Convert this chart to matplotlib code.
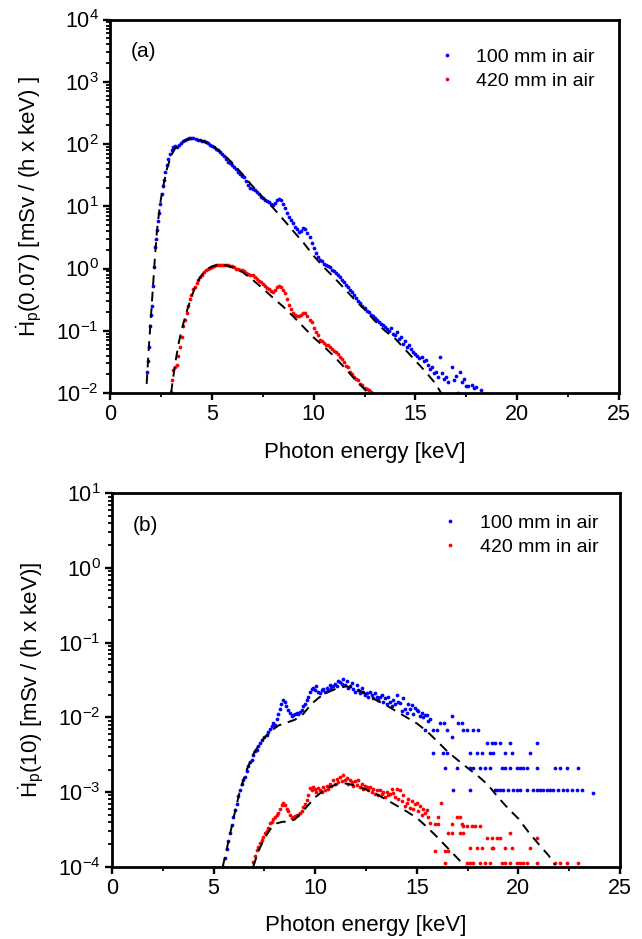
import numpy as np
import matplotlib
matplotlib.use("Agg")
import matplotlib.pyplot as plt
from matplotlib.ticker import LogLocator, MultipleLocator, NullFormatter

plt.rcParams['font.family'] = ['Liberation Sans', 'DejaVu Sans']
plt.rcParams['mathtext.fontset'] = 'custom'
plt.rcParams['mathtext.rm'] = 'Liberation Sans'
plt.rcParams['mathtext.it'] = 'Liberation Sans:italic'

# ---------------- Panel (a): Hp(0.07) ----------------
a_blue_x = [1.82, 1.87, 1.92, 1.96, 2.01, 2.06, 2.11, 2.16, 2.21, 2.25, 2.29, 2.35, 2.42, 2.48, 2.54, 2.6,
            2.65, 2.72, 2.78, 2.86, 2.95, 3.03, 3.11, 3.2, 3.3, 3.4, 3.5, 3.6, 3.7, 3.8, 3.9, 4.0, 4.1,
            4.2, 4.3, 4.4, 4.5, 4.6, 4.7, 4.8, 4.9, 5.0, 5.1, 5.2, 5.3, 5.4, 5.5, 5.6, 5.7, 5.8, 5.9,
            6.0, 6.1, 6.2, 6.3, 6.4, 6.5, 6.6, 6.7, 6.8, 6.9, 7.0, 7.1, 7.2, 7.3, 7.4, 7.5, 7.6, 7.7,
            7.8, 7.9, 8.0, 8.1, 8.2, 8.3, 8.4, 8.5, 8.6, 8.7, 8.8, 8.9, 9.0, 9.1, 9.2, 9.3, 9.4, 9.5,
            9.6, 9.7, 9.8, 9.9, 10.0, 10.1, 10.2, 10.3, 10.4, 10.5, 10.6, 10.7, 10.8, 10.9, 11.0, 11.1,
            11.2, 11.3, 11.4, 11.5, 11.6, 11.7, 11.8, 11.9, 12.0, 12.1, 12.2, 12.3, 12.4, 12.5, 12.6,
            12.7, 12.8, 12.9, 13.0, 13.1, 13.2, 13.3, 13.4, 13.5, 13.6, 13.7, 13.8, 13.9, 14.0, 14.1,
            14.2, 14.3, 14.4, 14.5, 14.6, 14.7, 14.8, 14.9, 15.0, 15.1, 15.2, 15.3, 15.4, 15.5, 15.6,
            15.7, 15.8, 15.9, 16.0, 16.1, 16.2, 16.3, 16.4, 16.5, 16.6, 16.8, 16.9, 17.0, 17.1, 17.2,
            17.3, 17.4, 17.5, 17.6, 17.8, 17.9, 18.0, 18.2]
a_blue_y = [0.022, 0.033, 0.055, 0.12, 0.18, 0.25, 0.52, 1.07, 2.2, 3.0, 4.2, 5.8, 7.7, 11, 16, 21,
            26, 35, 46, 57, 69, 80, 91, 92, 88, 95, 103, 110, 116, 120, 123, 124, 123,
            121, 118, 115, 113, 110, 107, 103, 98, 93, 88, 84, 79, 74, 69, 63, 57, 52, 49,
            46, 43, 40, 36, 33, 31, 29, 25, 22, 20, 19, 18, 17, 15.5, 14, 13.5, 12.8, 12.2,
            11.5, 10.8, 10.5, 11.2, 12.5, 13, 12.5, 11, 9.3, 7.8, 6.8, 6.0, 5.4, 4.7, 4.3, 3.9, 4.0, 4.5,
            4.3, 3.7, 3.2, 2.6, 2.1, 1.8, 1.55, 1.37, 1.3, 1.2, 1.15, 1.1, 1.05, 0.95, 0.9, 0.85,
            0.78, 0.74, 0.66, 0.6, 0.55, 0.5, 0.45, 0.42, 0.38, 0.34, 0.3, 0.28, 0.25, 0.23, 0.21,
            0.2, 0.18, 0.17, 0.16, 0.15, 0.14, 0.13, 0.125, 0.115, 0.105, 0.1, 0.11, 0.09, 0.085, 0.095,
            0.075, 0.08, 0.062, 0.068, 0.055, 0.06, 0.05, 0.045, 0.043, 0.04, 0.036, 0.038, 0.033, 0.034, 0.028,
            0.024, 0.026, 0.021, 0.022, 0.018, 0.038, 0.021, 0.017, 0.018, 0.015, 0.026, 0.016, 0.019, 0.01, 0.022,
            0.015, 0.017, 0.013, 0.013, 0.0135, 0.012, 0.0125, 0.011]

a_red_x = [2.98, 3.05, 3.11, 3.2, 3.28, 3.36, 3.44, 3.52, 3.6, 3.68, 3.77, 3.85, 3.93, 4.0, 4.1, 4.17,
           4.25, 4.33, 4.42, 4.5, 4.6, 4.7, 4.8, 4.9, 5.0, 5.1, 5.2, 5.3, 5.4, 5.5, 5.6, 5.7, 5.8, 5.9,
           6.0, 6.1, 6.2, 6.3, 6.4, 6.5, 6.6, 6.7, 6.8, 6.9, 7.0, 7.1, 7.2, 7.3, 7.4, 7.5, 7.6, 7.7,
           7.8, 7.9, 8.0, 8.1, 8.2, 8.3, 8.4, 8.5, 8.6, 8.7, 8.8, 8.9, 9.0, 9.1, 9.2, 9.3, 9.4, 9.5,
           9.6, 9.7, 9.8, 9.9, 10.0, 10.1, 10.2, 10.3, 10.4, 10.5, 10.6, 10.7, 10.8, 10.9, 11.0, 11.1,
           11.2, 11.3, 11.4, 11.5, 11.6, 11.7, 11.8, 11.9, 12.0, 12.1, 12.2, 12.3, 12.4, 12.5, 12.6,
           12.7, 12.8]
a_red_y = [0.0105, 0.016, 0.023, 0.026, 0.028, 0.04, 0.055, 0.08, 0.118, 0.15, 0.19, 0.25, 0.32, 0.38, 0.46, 0.51,
           0.58, 0.66, 0.74, 0.8, 0.87, 0.93, 0.98, 1.03, 1.07, 1.1, 1.13, 1.14, 1.15, 1.15, 1.14, 1.12, 1.13, 1.1,
           1.08, 1.06, 1.0, 1.0, 0.95, 0.93, 0.9, 0.85, 0.82, 0.79, 0.78, 0.72, 0.68, 0.64, 0.6, 0.56, 0.52, 0.48,
           0.46, 0.43, 0.42, 0.45, 0.5, 0.52, 0.5, 0.45, 0.4, 0.32, 0.26, 0.22, 0.19, 0.18, 0.17, 0.17, 0.18, 0.19,
           0.19, 0.17, 0.15, 0.14, 0.11, 0.095, 0.085, 0.072, 0.068, 0.064, 0.06, 0.058, 0.055, 0.05, 0.047, 0.045,
           0.042, 0.038, 0.035, 0.031, 0.027, 0.026, 0.022, 0.02, 0.018, 0.017, 0.016, 0.014, 0.0135, 0.012, 0.0115,
           0.011, 0.0105]

a_fit_blue_x = [1.8, 1.9, 2.0, 2.1, 2.2, 2.3, 2.4, 2.5, 2.6, 2.8, 3.0, 3.2, 3.5, 3.8, 4.0, 4.3, 4.6, 5.0,
                5.5, 6.0, 6.5, 7.0, 7.5, 8.0, 8.5, 9.0, 9.5, 10.0, 10.5, 11.0, 11.5, 12.0, 12.5, 13.0,
                13.5, 14.0, 14.5, 15.0, 15.5, 16.0, 16.3]
a_fit_blue_y = [0.014, 0.05, 0.15, 0.45, 1.4, 3.8, 7.5, 13, 20, 40, 65, 85, 105, 118, 120, 118, 110, 95,
                72, 50, 33, 21, 14, 9.5, 6.2, 4.0, 2.6, 1.6, 1.05, 0.72, 0.48, 0.32, 0.22, 0.145,
                0.1, 0.075, 0.05, 0.033, 0.022, 0.014, 0.0095]

a_fit_red_x = [3.0, 3.2, 3.4, 3.6, 3.8, 4.0, 4.2, 4.4, 4.6, 4.8, 5.0, 5.3, 5.6, 6.0, 6.5, 7.0, 7.5, 8.0,
               8.5, 9.0, 9.5, 10.0, 10.5, 11.0, 11.5, 12.0, 12.5, 12.65]
a_fit_red_y = [0.01, 0.03, 0.07, 0.13, 0.22, 0.35, 0.52, 0.7, 0.86, 0.99, 1.08, 1.15, 1.14, 1.05, 0.88, 0.66, 0.48, 0.34,
               0.245, 0.17, 0.115, 0.078, 0.056, 0.039, 0.026, 0.017, 0.0115, 0.01]

# ---------------- Panel (b): Hp(10) ----------------
b_blue_x = [5.45, 5.55, 5.65, 5.73, 5.81, 5.9, 5.97, 6.05, 6.13, 6.22, 6.3, 6.4, 6.47, 6.55, 6.63, 6.71,
            6.8, 6.87, 6.95, 7.05, 7.12, 7.2, 7.3, 7.4, 7.5, 7.61, 7.7, 7.8, 7.87, 7.94, 8.02, 8.1, 8.18,
            8.25, 8.33, 8.43, 8.5, 8.58, 8.68, 8.76, 8.84, 8.92, 9.0, 9.1, 9.17, 9.25, 9.33, 9.42, 9.5,
            9.58, 9.66, 9.74, 9.82, 9.9, 9.98, 10.06, 10.14, 10.24, 10.32, 10.4, 10.48, 10.56, 10.64,
            10.72, 10.8, 10.89, 10.97, 11.05, 11.13, 11.22, 11.3, 11.38, 11.46, 11.55, 11.63, 11.71, 11.8,
            11.88, 11.96, 12.04, 12.12, 12.2, 12.3, 12.37, 12.45, 12.53, 12.62, 12.7, 12.78, 12.86, 12.95,
            13.03, 13.11, 13.19, 13.27, 13.35, 13.44, 13.52, 13.6, 13.68, 13.76, 13.84, 13.93, 14.01,
            14.09, 14.17, 14.25, 14.33, 14.42, 14.5, 14.58, 14.66, 14.75, 14.83, 14.91, 15.0, 15.08,
            15.16, 15.24, 15.32, 15.4, 15.49, 15.57, 15.65,
            # quantised tail
            15.4, 15.81, 16.01, 16.47, 17.29, 17.45, 17.78, 18.03,
            16.14, 16.34, 17.04, 17.21, 16.72, 16.72,
            18.44, 18.69, 18.84, 19.09, 19.59, 20.9,
            15.81, 16.3, 16.47, 17.62, 17.95, 18.19, 18.6, 18.77, 19.34, 19.67, 20.57,
            16.39, 16.96, 17.62, 17.78, 18.11, 18.36, 18.6, 19.18, 19.34, 19.59, 19.92, 20.08, 20.24,
            20.41, 20.9, 21.8, 22.05, 22.38, 22.95,
            16.8, 17.62, 18.84, 18.93, 19.09, 19.26, 19.5, 19.75, 19.92, 20.08, 20.41, 20.73, 20.9,
            21.06, 21.23, 21.4, 21.56, 21.72, 21.96, 22.21, 22.38, 22.62, 22.87, 23.11, 23.65]
b_blue_y = [1.0e-4, 1.3e-4, 1.75e-4, 2.2e-4, 2.8e-4, 3.6e-4, 4.6e-4, 5.7e-4, 7.0e-4, 8.8e-4, 1.07e-3, 1.3e-3, 1.45e-3, 1.6e-3, 1.9e-3, 2.2e-3,
            2.5e-3, 2.7e-3, 3.1e-3, 3.5e-3, 3.7e-3, 4.1e-3, 4.6e-3, 5.0e-3, 5.4e-3, 5.8e-3, 6.3e-3, 7.0e-3, 7.6e-3, 8.3e-3, 8.0e-3, 9.5e-3, 0.011,
            0.013, 0.015, 0.017, 0.016, 0.014, 0.0126, 0.0115, 0.0105, 0.0107, 0.011, 0.0115, 0.0112, 0.0117, 0.0125, 0.014, 0.015,
            0.017, 0.019, 0.022, 0.024, 0.025, 0.023, 0.026, 0.022, 0.021, 0.023, 0.024, 0.022, 0.025, 0.023,
            0.027, 0.025, 0.026, 0.028, 0.026, 0.031, 0.030, 0.028, 0.033, 0.027, 0.031, 0.025, 0.026, 0.029,
            0.024, 0.022, 0.027, 0.023, 0.021, 0.025, 0.022, 0.020, 0.021, 0.019, 0.022, 0.020, 0.018, 0.021,
            0.019, 0.017, 0.019, 0.020, 0.016, 0.018, 0.015, 0.019, 0.016, 0.014, 0.017, 0.015, 0.020,
            0.016, 0.0155, 0.012, 0.018, 0.013, 0.0113, 0.015, 0.013, 0.0145, 0.011, 0.0135, 0.0125, 0.012,
            0.0105, 0.0115, 0.010, 0.0107, 0.0107, 0.0088, 0.0095,
            0.0067, 0.0067, 0.0067, 0.0067, 0.0067, 0.0067, 0.0067, 0.0067,
            0.0083, 0.0083, 0.0083, 0.0083, 0.0103, 0.0054,
            0.0045, 0.0045, 0.0045, 0.0045, 0.0045, 0.0045,
            0.0033, 0.0033, 0.0033, 0.0033, 0.0033, 0.0033, 0.0033, 0.0033, 0.0033, 0.0033, 0.0033,
            0.0021, 0.0021, 0.0021, 0.0021, 0.0021, 0.0021, 0.0021, 0.0021, 0.0021, 0.0021, 0.0021, 0.0021, 0.0021,
            0.0021, 0.0021, 0.0021, 0.0021, 0.0021, 0.0021,
            0.00107, 0.00107, 0.00107, 0.00107, 0.00107, 0.00107, 0.00107, 0.00107, 0.00107, 0.00107, 0.00107, 0.00107, 0.00107,
            0.00107, 0.00107, 0.00107, 0.00107, 0.00107, 0.00107, 0.00107, 0.00107, 0.00107, 0.00107, 0.00107, 0.00097]

b_red_x = [6.95, 7.03, 7.12, 7.2, 7.28, 7.37, 7.45, 7.53, 7.61, 7.7, 7.78, 7.86, 7.94, 8.02, 8.1, 8.18,
           8.26, 8.35, 8.43, 8.51, 8.6, 8.68, 8.76, 8.84, 8.92, 9.0, 9.09, 9.17, 9.25, 9.33, 9.42, 9.5,
           9.58, 9.66, 9.74, 9.82, 9.9, 9.98, 10.06, 10.14, 10.24, 10.32, 10.4, 10.48, 10.56, 10.64,
           10.72, 10.8, 10.89, 10.97, 11.05, 11.13, 11.22, 11.3, 11.38, 11.46, 11.55, 11.63, 11.71, 11.8,
           11.88, 11.96, 12.04, 12.12, 12.2, 12.28, 12.37, 12.45, 12.53, 12.62, 12.7, 12.78, 12.86, 12.95,
           13.03, 13.11, 13.19, 13.27, 13.35, 13.44, 13.52, 13.6, 13.68, 13.76, 13.84, 13.93, 14.01,
           14.09, 14.17, 14.25, 14.33, 14.42, 14.5, 14.58, 14.66, 14.75, 14.83, 14.91, 15.0, 15.08,
           15.16, 15.24, 15.32, 15.4, 15.49, 15.57, 15.65,
           # quantised tail
           16.2, 16.06, 16.96, 17.13, 15.9, 16.06, 16.72, 17.21,
           17.29, 17.45, 17.7, 17.86, 18.11,
           16.55, 16.72, 17.13, 17.29, 19.59,
           18.44, 18.69, 18.93, 19.09, 20.9,
           17.62, 17.95, 18.19, 18.69, 18.77, 19.34, 19.67, 20.57,
           15.9, 16.39, 16.55,
           16.39, 17.45, 17.62, 17.78, 18.11, 18.36, 18.6, 19.18, 19.34, 19.59, 19.92, 20.08, 20.24,
           20.41, 20.9, 21.8, 22.05, 22.38, 22.95]
b_red_y = [1.17e-4, 1.4e-4, 1.65e-4, 1.85e-4, 2.1e-4, 2.3e-4, 2.5e-4, 2.8e-4, 3.0e-4, 3.3e-4, 3.8e-4, 4.0e-4, 4.3e-4, 4.6e-4, 4.9e-4, 5.2e-4,
           6.0e-4, 6.6e-4, 7.1e-4, 6.8e-4, 6.0e-4, 5.5e-4, 5.0e-4, 4.5e-4, 4.7e-4, 4.8e-4, 5.0e-4, 4.9e-4, 5.2e-4, 5.6e-4, 6.3e-4, 7.0e-4,
           7.8e-4, 9.0e-4, 1.12e-3, 1.05e-3, 1.17e-3, 1.1e-3, 1.0e-3, 1.12e-3, 1.07e-3, 1.0e-3, 1.15e-3, 1.05e-3, 1.2e-3, 1.1e-3,
           1.3e-3, 1.2e-3, 1.45e-3, 1.3e-3, 1.5e-3, 1.35e-3, 1.6e-3, 1.4e-3, 1.7e-3, 1.45e-3, 1.55e-3, 1.3e-3, 1.45e-3, 1.35e-3,
           1.2e-3, 1.4e-3, 1.25e-3, 1.45e-3, 1.15e-3, 1.3e-3, 1.1e-3, 1.2e-3, 1.17e-3, 1.05e-3, 1.15e-3, 1.0e-3, 1.1e-3, 0.95e-3,
           1.05e-3, 0.9e-3, 1.07e-3, 0.95e-3, 1.0e-3, 0.85e-3, 1.0e-3, 0.9e-3, 0.95e-3, 1.1e-3, 0.96e-3, 0.85e-3, 1.1e-3,
           0.8e-3, 1.07e-3, 0.75e-3, 0.9e-3, 0.65e-3, 0.71e-3, 0.8e-3, 0.62e-3, 0.75e-3, 0.6e-3, 0.7e-3, 0.71e-3, 0.55e-3,
           0.65e-3, 0.5e-3, 0.6e-3, 0.52e-3, 0.58e-3, 0.46e-3, 0.38e-3,
           7.2e-4, 4.6e-4, 4.6e-4, 4.6e-4, 3.7e-4, 3.7e-4, 3.7e-4, 3.7e-4,
           3.5e-4, 3.5e-4, 3.5e-4, 3.5e-4, 3.5e-4,
           2.85e-4, 2.85e-4, 2.85e-4, 2.85e-4, 2.85e-4,
           2.4e-4, 2.4e-4, 2.4e-4, 2.4e-4, 2.4e-4,
           1.8e-4, 1.8e-4, 1.8e-4, 1.8e-4, 1.8e-4, 1.8e-4, 1.8e-4, 1.8e-4,
           1.6e-4, 1.6e-4, 1.6e-4,
           1.13e-4, 1.13e-4, 1.13e-4, 1.13e-4, 1.13e-4, 1.13e-4, 1.13e-4, 1.13e-4, 1.13e-4, 1.13e-4, 1.13e-4, 1.13e-4, 1.13e-4,
           1.13e-4, 1.13e-4, 1.13e-4, 1.13e-4, 1.13e-4, 1.13e-4]

b_fit_blue_x = [5.45, 5.7, 6.0, 6.3, 6.6, 7.0, 7.4, 7.8, 8.2, 8.6, 9.0, 9.4, 9.8, 10.2, 10.6, 11.0, 11.5,
                12.0, 12.5, 13.0, 13.5, 14.0, 14.5, 15.0, 15.5, 16.0, 16.5, 17.0, 17.5, 18.0, 18.5, 19.0,
                19.5, 20.0, 20.5, 21.0, 21.5, 21.8]
b_fit_blue_y = [1.0e-4, 2.0e-4, 4.7e-4, 1.05e-3, 1.9e-3, 3.4e-3, 5.0e-3, 6.5e-3, 7.8e-3, 8.5e-3, 9.3e-3, 1.1e-2, 1.5e-2, 1.85e-2, 2.15e-2, 2.4e-2, 2.6e-2,
                2.45e-2, 2.05e-2, 1.7e-2, 1.45e-2, 1.2e-2, 1.0e-2, 8.3e-3, 6.5e-3, 4.8e-3, 3.5e-3, 2.7e-3, 2.1e-3, 1.65e-3, 1.25e-3, 8.5e-4,
                6.0e-4, 4.4e-4, 2.9e-4, 2.0e-4, 1.4e-4, 1.05e-4]

b_fit_red_x = [6.95, 7.2, 7.5, 7.8, 8.1, 8.4, 8.7, 9.0, 9.3, 9.6, 10.0, 10.5, 11.0, 11.5, 12.0, 12.5,
               13.0, 13.5, 14.0, 14.5, 15.0, 15.5, 16.0, 16.5, 17.0, 17.4]
b_fit_red_y = [1.0e-4, 1.6e-4, 2.4e-4, 3.2e-4, 3.8e-4, 4.0e-4, 4.0e-4, 4.3e-4, 5.2e-4, 6.4e-4, 8.5e-4, 1.1e-3, 1.25e-3, 1.3e-3, 1.22e-3, 1.08e-3,
               9.4e-4, 7.9e-4, 6.6e-4, 5.5e-4, 4.5e-4, 3.4e-4, 2.5e-4, 1.8e-4, 1.3e-4, 1.0e-4]

series_labels = ["100 mm in air", "420 mm in air"]
panel_tags = ["(a)", "(b)"]
xlabel = "Photon energy [keV]"
ylabels = [r"$\dot{\mathrm{H}}_{\mathrm{p}}$(0.07) [mSv / (h x keV) ]",
           r"$\dot{\mathrm{H}}_{\mathrm{p}}$(10) [mSv / (h x keV)]"]

fig = plt.figure(figsize=(6.42, 9.39), dpi=100)
ax1 = fig.add_axes([110/642, 1-393/939, 509/642, 373.5/939])
ax2 = fig.add_axes([112/642, 1-866.7/939, 508/642, 373.4/939])

ms = 2.7
dash = (0, (5, 3.5))

def style(ax, ylim, ylab, tag):
    ax.set_yscale('log')
    ax.set_xlim(0, 25)
    ax.set_ylim(*ylim)
    ax.xaxis.set_major_locator(MultipleLocator(5))
    ax.xaxis.set_minor_locator(MultipleLocator(2.5))
    ax.yaxis.set_major_locator(LogLocator(base=10, numticks=20))
    ax.yaxis.set_minor_locator(LogLocator(base=10, subs=np.arange(2, 10), numticks=20))
    ax.yaxis.set_minor_formatter(NullFormatter())
    for s in ax.spines.values():
        s.set_linewidth(2.0)
    ax.tick_params(which='major', direction='out', length=5, width=1.7, labelsize=15.5, pad=3)
    ax.tick_params(which='minor', direction='out', length=3, width=1.3)
    ax.set_xlabel(xlabel, fontsize=16, labelpad=12)
    ax.set_ylabel(ylab, fontsize=16)
    ax.yaxis.set_label_coords(-0.13, 0.5)
    ax.text(0.04, 0.915, tag, transform=ax.transAxes, fontsize=15, va='center', ha='left')

ax1.plot(a_fit_blue_x, a_fit_blue_y, color='black', ls=dash, lw=1.4, zorder=3)
ax1.plot(a_fit_red_x, a_fit_red_y, color='black', ls=dash, lw=1.4, zorder=3)
ax1.plot(a_blue_x, a_blue_y, 'o', color='#0000ff', ms=ms, mew=0, label=series_labels[0], zorder=2)
ax1.plot(a_red_x, a_red_y, 'o', color='#ff0000', ms=ms, mew=0, label=series_labels[1], zorder=2)
style(ax1, (1e-2, 1e4), ylabels[0], panel_tags[0])

ax2.plot(b_fit_blue_x, b_fit_blue_y, color='black', ls=dash, lw=1.4, zorder=3)
ax2.plot(b_fit_red_x, b_fit_red_y, color='black', ls=dash, lw=1.4, zorder=3)
ax2.plot(b_blue_x, b_blue_y, 'o', color='#0000ff', ms=ms, mew=0, label=series_labels[0], zorder=2)
ax2.plot(b_red_x, b_red_y, 'o', color='#ff0000', ms=ms, mew=0, label=series_labels[1], zorder=2)
style(ax2, (1e-4, 1e1), ylabels[1], panel_tags[1])

for ax, anchor in ((ax1, (0.953, 0.922)), (ax2, (0.957, 0.943))):
    ax.legend(loc='upper right', bbox_to_anchor=anchor, frameon=False, fontsize=14,
              handlelength=1.0, handletextpad=1.0, labelspacing=0.3, borderaxespad=0.0,
              borderpad=0.0, markerscale=1.0)

fig.savefig("out.png", dpi=100)
